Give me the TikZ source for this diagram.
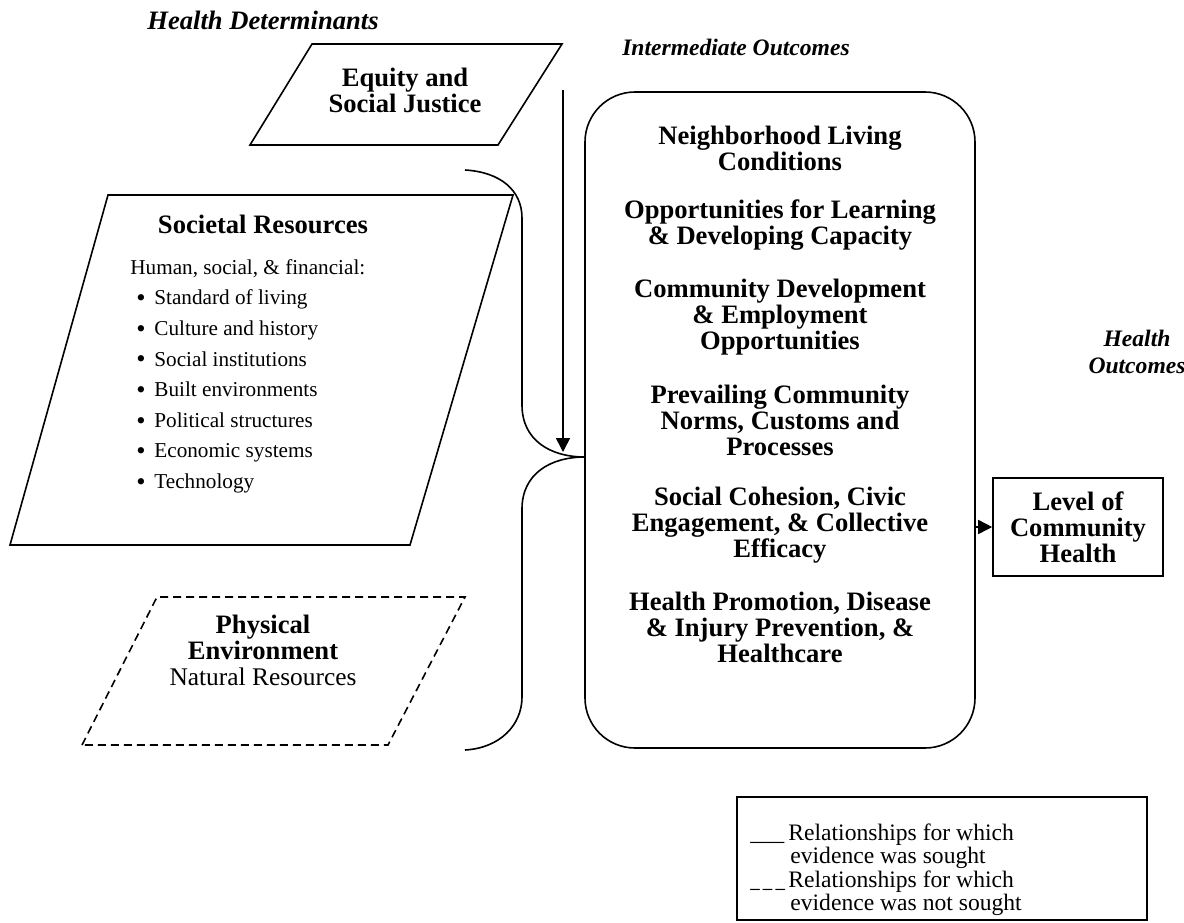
\documentclass[tikz,border=0pt]{standalone}
\usepackage{fontspec}
\usepackage{graphicx}
\setmainfont{Liberation Serif}
\usetikzlibrary{arrows.meta,positioning}

\tikzset{
  heading/.style={font=\fontsize{13.3}{13.5}\selectfont\bfseries\itshape, align=center, inner sep=0pt},
  smallheading/.style={heading, font=\fontsize{11.8}{13.5}\selectfont\bfseries\itshape},
  boldtext/.style={font=\fontsize{13.3}{13}\selectfont\bfseries, align=center, inner sep=0pt},
  listtext/.style={font=\fontsize{10.6}{15.3}\selectfont, align=left, inner sep=0pt},
  legendtext/.style={font=\fontsize{11.8}{11.8}\selectfont, align=left, inner sep=0pt},
  line/.style={line width=0.8pt},
  dashline/.style={line width=0.8pt, dash pattern=on 4pt off 2.5pt},
  arrowline/.style={line width=0.8pt, -{Triangle[length=7pt,width=7pt]}},
}

\newcommand{\legkey}[2]{\makebox[19pt][l]{\scalebox{#1}[1]{#2}}}
\newcommand{\listitem}{\hspace*{3pt}\makebox[9pt][l]{\raisebox{-0.9pt}{\scalebox{1.25}{\textbullet}}}}

\begin{document}
\begin{tikzpicture}[x=0.5pt,y=-0.5pt]
  \useasboundingbox (0,0) rectangle (1184,922);

  % Column headings
  \node[heading] (hdet) at (263,20) {Health Determinants};
  \node[smallheading] (hint) at (736,47) {Intermediate Outcomes};
  \node[smallheading] (hout) at (1137,352) {Health\\Outcomes};

  % Equity and Social Justice
  \draw[line] (250,145) -- (312,44) -- (562,44) -- (498,145) -- cycle;
  \node[boldtext] (equity) at (405,90) {Equity and\\Social Justice};

  % Societal Resources
  \draw[line] (10,545) -- (108,195) -- (513,195) -- (410,545) -- cycle;
  \node[boldtext] (societal) at (263,224) {Societal Resources};
  \node[listtext, anchor=north west] (soclist) at (130,259) {%
    Human, social, \& financial:\\
    \listitem Standard of living\\
    \listitem Culture and history\\
    \listitem Social institutions\\
    \listitem Built environments\\
    \listitem Political structures\\
    \listitem Economic systems\\
    \listitem Technology};

  % Physical Environment (not sought)
  \draw[dashline] (82,745) -- (157,597) -- (465,597) -- (388,745) -- cycle;
  \node[boldtext] (physical) at (263,650) {Physical\\Environment\\{\mdseries\fontsize{12.7}{13}\selectfont Natural Resources}};

  % Intermediate outcomes
  \node[draw, line, rounded corners=25pt, minimum width=195pt, minimum height=328pt, inner sep=0pt] (inter) at (780,420) {};
  \node[boldtext] (neigh) at (780,148) {Neighborhood Living\\Conditions};
  \node[boldtext] (learn) at (780,225) {Opportunities for Learning\\\& Developing Capacity};
  \node[boldtext] (devel) at (780,317) {Community Development\\\& Employment\\Opportunities};
  \node[boldtext] (norms) at (780,420) {Prevailing Community\\Norms, Customs and\\Processes};
  \node[boldtext] (cohes) at (780,525) {Social Cohesion, Civic\\Engagement, \& Collective\\Efficacy};
  \node[boldtext] (promo) at (780,627) {Health Promotion, Disease\\\& Injury Prevention, \&\\Healthcare};

  % Health outcome
  \node[draw, line, minimum width=85pt, minimum height=49pt, inner sep=0pt, boldtext] (level) at (1078,527) {Level of\\Community\\Health};
  \draw[arrowline] (inter.east |- level.west) -- (level.west);

  % Brace joining the determinants
  \coordinate (cusp) at (585,457);
  \coordinate (bracetop) at (465,170);
  \coordinate (bracebot) at (465,750);
  \draw[line] (bracetop) .. controls (500,172) and (522,190) .. (522,218) -- (522,405)
    .. controls (522,440) and (550,457) .. (cusp);
  \draw[line] (cusp) .. controls (550,457) and (522,474) .. (522,509) -- (522,697)
    .. controls (522,725) and (500,748) .. (bracebot);

  % Equity arrow
  \coordinate (arrtop) at (563,90);
  \coordinate (arrbot) at (563,452);
  \draw[arrowline] (arrtop) -- (arrbot);

  % Legend
  \node[draw, line, minimum width=205pt, minimum height=61.5pt, inner sep=0pt] (legend) at (942,858.5) {};
  \node[legendtext, anchor=north west] (legtext) at (750,823) {%
    \legkey{0.72}{\_\_\_\_}Relationships for which\\
    \hspace*{20pt}evidence was sought\\
    \legkey{0.8}{\_\,\_\,\_}Relationships for which\\
    \hspace*{20pt}evidence was not sought};
\end{tikzpicture}
\end{document}
